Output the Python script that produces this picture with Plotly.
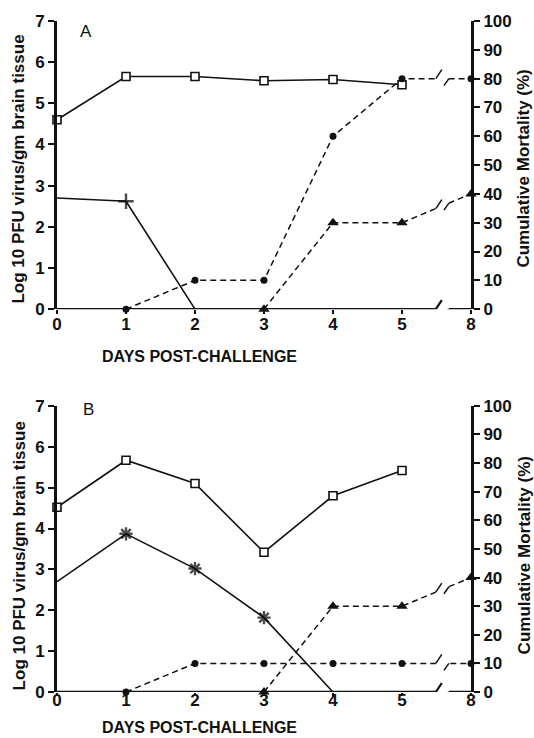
import numpy as np
import plotly.graph_objects as go

# ---------------- data ----------------
x_tick_days = [0, 1, 2, 3, 4, 5, 8]
x_tick_labels = ["0", "1", "2", "3", "4", "5", "8"]

# Panel A
a_sq_days = [0, 1, 2, 3, 4, 5]
a_sq_vals = [4.6, 5.65, 5.65, 5.55, 5.58, 5.45]
a_plus_days = [0, 1, 2]
a_plus_vals = [2.7, 2.62, 0]
a_circ_days = [1, 2, 3, 4, 5, 8]
a_circ_vals = [0, 10, 10, 60, 80, 80]
a_tri_days = [3, 4, 5, 8]
a_tri_vals = [0, 30, 30, 40]

# Panel B
b_sq_days = [0, 1, 2, 3, 4, 5]
b_sq_vals = [4.52, 5.67, 5.1, 3.42, 4.8, 5.42]
b_plus_days = [0, 1, 2, 3, 4]
b_plus_vals = [2.7, 3.87, 3.02, 1.82, 0]
b_circ_days = [1, 2, 3, 4, 5, 8]
b_circ_vals = [0, 10, 10, 10, 10, 10]
b_tri_days = [3, 4, 5, 8]
b_tri_vals = [0, 30, 30, 40]

left_title = "Log 10 PFU virus/gm brain tissue"
right_title = "Cumulative Mortality (%)"
x_title = "DAYS POST-CHALLENGE"

# broken axis: days up to 5 are linear, day 8 drawn at position 6
BREAK_L, BREAK_R = 5.49, 5.68


def pos(days):
    return [d if d <= 5 else 6 for d in days]


FONT = "Liberation Sans"
BLACK = "#111"

fig = go.Figure()


def add_panel(xa, ya, ya2, sq_d, sq_v, pl_d, pl_v, ci_d, ci_v, tr_d, tr_v, plus_sym):
    fig.add_trace(go.Scatter(
        x=pos(sq_d), y=sq_v, xaxis=xa, yaxis=ya, mode="lines+markers",
        line=dict(color=BLACK, width=1.6),
        marker=dict(symbol="square", size=8, color="white", line=dict(color=BLACK, width=1.6)),
        cliponaxis=False, showlegend=False, hoverinfo="skip"))
    psize = [0] + [11] * (len(pl_d) - 2) + [0]
    fig.add_trace(go.Scatter(
        x=pos(pl_d), y=pl_v, xaxis=xa, yaxis=ya, mode="lines+markers",
        line=dict(color=BLACK, width=1.6),
        marker=dict(symbol=plus_sym, size=psize, color=BLACK, line=dict(color="black", width=2.4)),
        cliponaxis=False, showlegend=False, hoverinfo="skip"))
    fig.add_trace(go.Scatter(
        x=pos(ci_d), y=ci_v, xaxis=xa, yaxis=ya2, mode="lines+markers",
        line=dict(color=BLACK, width=1.5, dash="6px,4px"),
        marker=dict(symbol="circle", size=7, color=BLACK),
        cliponaxis=False, showlegend=False, hoverinfo="skip"))
    fig.add_trace(go.Scatter(
        x=pos(tr_d), y=tr_v, xaxis=xa, yaxis=ya2, mode="lines+markers",
        line=dict(color=BLACK, width=1.5, dash="6px,4px"),
        marker=dict(symbol="triangle-up", size=10, color=BLACK),
        cliponaxis=False, showlegend=False, hoverinfo="skip"))

    xref = xa
    yref2 = ya2
    shapes = []
    # white gap covering the lines in the axis break
    shapes.append(dict(type="rect", xref=xref, yref=yref2, x0=BREAK_L, x1=BREAK_R,
                       y0=-1, y1=101, fillcolor="white", line=dict(width=0), layer="above"))
    # x axis line segments
    shapes.append(dict(type="line", xref=xref, yref=yref2, x0=0, x1=BREAK_L, y0=0, y1=0,
                       line=dict(color=BLACK, width=2.5), layer="above"))
    shapes.append(dict(type="line", xref=xref, yref=yref2, x0=BREAK_R, x1=6, y0=0, y1=0,
                       line=dict(color=BLACK, width=2.5), layer="above"))
    # break slashes on axis and on broken series
    ys = [(0, 0, 2.2)]
    for d, v in ((ci_d, ci_v), (tr_d, tr_v)):
        p = pos(d)
        yl = float(np.interp(BREAK_L, p, v))
        yr = float(np.interp(BREAK_R, p, v))
        ys.append((yl, yr, 1.5))
    for yl, yr, w in ys:
        shapes.append(dict(type="line", xref=xref, yref=yref2,
                           xsizemode="pixel", xanchor=BREAK_L, x0=0, x1=6,
                           ysizemode="pixel", yanchor=yl, y0=0, y1=9,
                           line=dict(color=BLACK, width=w), layer="above"))
        shapes.append(dict(type="line", xref=xref, yref=yref2,
                           xsizemode="pixel", xanchor=BREAK_R, x0=-5, x1=0,
                           ysizemode="pixel", yanchor=yr, y0=-7, y1=0,
                           line=dict(color=BLACK, width=w), layer="above"))
    return shapes


shapes = []
shapes += add_panel("x", "y", "y2", a_sq_days, a_sq_vals, a_plus_days, a_plus_vals,
                    a_circ_days, a_circ_vals, a_tri_days, a_tri_vals, "cross-thin")
shapes += add_panel("x2", "y3", "y4", b_sq_days, b_sq_vals, b_plus_days, b_plus_vals,
                    b_circ_days, b_circ_vals, b_tri_days, b_tri_vals, "asterisk")

tickfont = dict(family=FONT, size=17, color=BLACK, weight="bold")

xax = dict(range=[0, 6], tickvals=pos(x_tick_days), ticktext=x_tick_labels,
           showline=False, showgrid=False, zeroline=False, ticks="outside",
           ticklen=4, tickwidth=1.5, tickcolor=BLACK, tickfont=tickfont)
yl_ax = dict(range=[0, 7], dtick=1, showline=True, linewidth=3, linecolor=BLACK,
             showgrid=False, zeroline=False, ticks="outside", ticklen=6, tickwidth=2,
             tickcolor=BLACK, tickfont=tickfont)
yr_ax = dict(range=[0, 100], dtick=10, showline=True, linewidth=3, linecolor=BLACK,
             showgrid=False, zeroline=False, ticks="outside", ticklen=6, tickwidth=2,
             tickcolor=BLACK, tickfont=tickfont, side="right")

top_dom = [0.5706, 1.0]
bot_dom = [0.0, 0.4264]

fig.update_layout(
    width=534, height=738,
    margin=dict(l=57, r=63, t=19, b=46),
    paper_bgcolor="white", plot_bgcolor="white",
    xaxis=dict(xax, anchor="y", domain=[0, 1], ticklabelstandoff=-5),
    yaxis=dict(yl_ax, anchor="x", domain=top_dom),
    yaxis2=dict(yr_ax, anchor="x", overlaying="y"),
    xaxis2=dict(xax, anchor="y3", domain=[0, 1], ticklen=3, ticklabelstandoff=-10),
    yaxis3=dict(yl_ax, anchor="x2", domain=bot_dom),
    yaxis4=dict(yr_ax, anchor="x2", overlaying="y3"),
    shapes=shapes,
    hovermode=False,
)

title_font = dict(family=FONT, size=17, color=BLACK, weight="bold")
annos = []
for yc, xt_y, lab, lab_x, lab_y in ((0.780, 0.5007, "A", 0.070, 0.985),
                                    (0.2036, -0.0535, "B", 0.075, 0.4205)):
    annos.append(dict(text=left_title, xref="paper", yref="paper", x=-0.0918, y=yc,
                      textangle=-90, showarrow=False, font=title_font,
                      xanchor="center", yanchor="middle"))
    annos.append(dict(text=right_title, xref="paper", yref="paper", x=1.128, y=yc,
                      textangle=-90, showarrow=False, font=title_font,
                      xanchor="center", yanchor="middle"))
    annos.append(dict(text=x_title, xref="paper", yref="paper", x=0.345, y=xt_y,
                      showarrow=False, font=dict(family=FONT, size=16, color=BLACK, weight="bold"),
                      xanchor="center", yanchor="middle"))
    annos.append(dict(text=lab, xref="paper", yref="paper", x=lab_x, y=lab_y,
                      showarrow=False, font=dict(family=FONT, size=17, color=BLACK),
                      xanchor="center", yanchor="middle"))
fig.update_layout(annotations=annos)

# remove the default 8px page margin so the figure fills the window exactly
fig.write_html("out.html", config={"displayModeBar": False},
               post_script="document.body.style.margin='0px';")
